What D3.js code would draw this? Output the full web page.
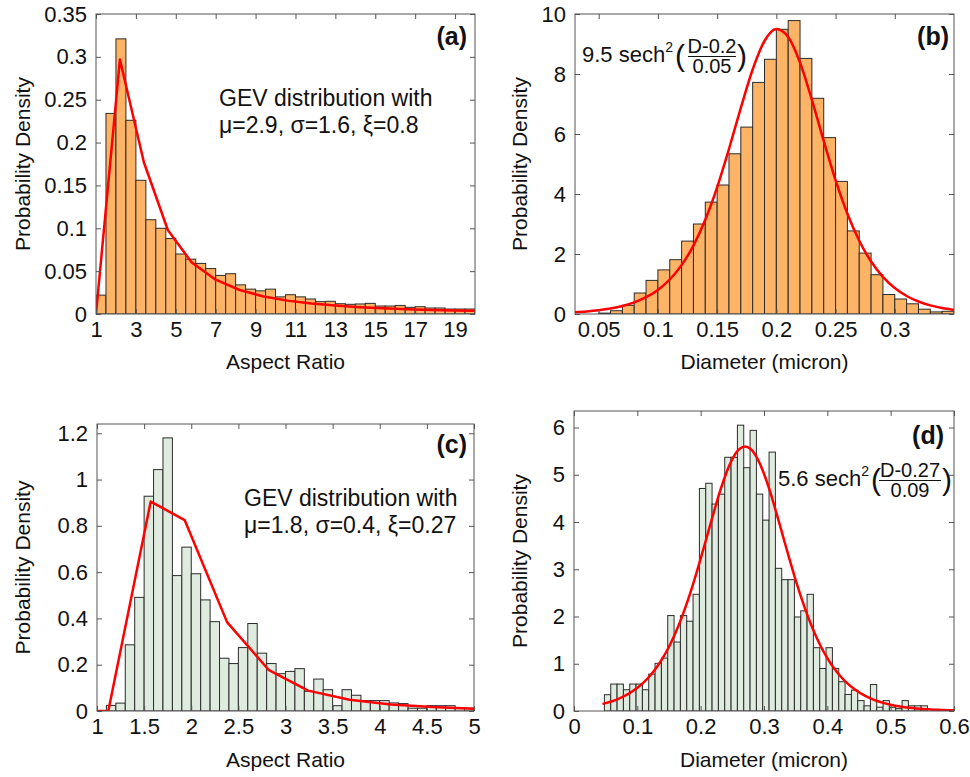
<!DOCTYPE html>
<html>
<head>
<meta charset="utf-8">
<script src="https://cdn.jsdelivr.net/npm/d3@7"></script>
<style>
  body { margin: 0; background: #fff; }
  text { font-family: "Liberation Sans", Arial, sans-serif; fill: #111; }
</style>
</head>
<body>
<div id="fig"></div>
<script>
// (a) aspect ratio histogram, bins of 0.5 starting at 1
const aBinStart = 1, aBinWidth = 0.5;
const aDensity = [0.022, 0.234, 0.321, 0.226, 0.156, 0.110, 0.100, 0.088, 0.070, 0.064,
    0.059, 0.053, 0.045, 0.047, 0.034, 0.029, 0.027, 0.029, 0.020, 0.0225,
    0.020, 0.0175, 0.0144, 0.0148, 0.012, 0.0113, 0.0117, 0.0124, 0.0093, 0.0093,
    0.010, 0.0078, 0.0085, 0.007, 0.007, 0.0058, 0.0058, 0.0058];
const aFitX = [1, 2.2, 3.4, 4.6, 5.8, 7, 8.2, 9.4, 10.6, 11.8, 13, 14.2, 15.4, 16.6, 17.8, 19, 20];
const aFitY = [0, 0.297, 0.177, 0.098, 0.060, 0.040, 0.028, 0.0205, 0.0156, 0.0122, 0.0098,
    0.008, 0.0067, 0.0056, 0.0048, 0.0041, 0.0037];
const aXTicks = [1, 3, 5, 7, 9, 11, 13, 15, 17, 19];
const aYTicks = [0, 0.05, 0.1, 0.15, 0.2, 0.25, 0.3, 0.35];

// (b) diameter histogram, bins of 0.01 starting at 0.05
const bBinStart = 0.05, bBinWidth = 0.01;
const bDensity = [0.03, 0.11, 0.29, 0.70, 1.12, 1.47, 1.81, 2.43, 3.0, 3.73,
    4.30, 5.34, 6.23, 7.72, 8.49, 9.49, 9.78, 8.52, 7.19, 5.88,
    4.42, 2.77, 2.03, 1.31, 0.65, 0.50, 0.34, 0.16, 0.07, 0.09];
const bFitX = [0.03, 0.04, 0.05, 0.06, 0.07, 0.08, 0.09, 0.10, 0.11, 0.12, 0.13, 0.14, 0.15, 0.16,
    0.17, 0.18, 0.19, 0.20, 0.21, 0.22, 0.23, 0.24, 0.25, 0.26, 0.27, 0.28, 0.29, 0.30,
    0.31, 0.32, 0.33, 0.34, 0.35];
const bFitY = [0.060, 0.087, 0.127, 0.184, 0.267, 0.387, 0.560, 0.804, 1.15, 1.63, 2.28, 3.14, 4.22, 5.50,
    6.87, 8.15, 9.10, 9.50, 9.23, 8.38, 7.14, 5.77, 4.46, 3.34, 2.44, 1.75, 1.24, 0.865,
    0.601, 0.417, 0.288, 0.198, 0.136];
const bXTicks = [0.05, 0.1, 0.15, 0.2, 0.25, 0.3];
const bYTicks = [0, 2, 4, 6, 8, 10];

// (c) aspect ratio histogram, bins of 0.1 starting at 1.1
const cBinStart = 1.1, cBinWidth = 0.1;
const cDensity = [0.024, 0.034, 0.286, 0.491, 0.928, 1.043, 1.180, 0.585, 0.708, 0.593,
    0.480, 0.386, 0.228, 0.205, 0.274, 0.378, 0.25, 0.205, 0.161, 0.171,
    0.183, 0.085, 0.138, 0.092, 0.023, 0.092, 0.068, 0.045, 0.045, 0.045,
    0.035, 0.032, 0.012, 0.012, 0.023, 0.023, 0.023, 0.012, 0.012];
const cFitX = [1.0, 1.12, 1.57, 1.93, 2.38, 2.82, 3.24, 3.68, 4.12, 4.56, 5.0];
const cFitY = [0, 0, 0.905, 0.825, 0.384, 0.178, 0.088, 0.049, 0.028, 0.017, 0.010];
const cXTicks = [1, 1.5, 2, 2.5, 3, 3.5, 4, 4.5, 5];
const cYTicks = [0, 0.2, 0.4, 0.6, 0.8, 1, 1.2];

// (d) diameter histogram, bins of 0.01 starting at 0.048
const dBinStart = 0.048, dBinWidth = 0.01;
const dDensity = [0.345, 0.57, 0.57, 0.45, 0.57, 0.57, 0.45, 0.78, 1.01, 1.12,
    2.02, 1.46, 2.02, 1.90, 2.47, 4.71, 4.82, 4.38, 4.59, 5.37,
    5.37, 6.05, 5.15, 5.94, 4.59, 4.04, 5.48, 3.02, 2.78, 2.78,
    1.99, 2.12, 2.47, 1.34, 0.90, 1.34, 0.90, 0.62, 0.35, 0.44,
    0.22, 0.11, 0.56, 0.08, 0.22, 0.08, 0.05, 0.22, 0.11, 0.11, 0.11];
const dFitX = [0.045, 0.05, 0.06, 0.07, 0.08, 0.09, 0.10, 0.11, 0.12, 0.13, 0.14, 0.15, 0.16, 0.17,
    0.18, 0.19, 0.20, 0.21, 0.22, 0.23, 0.24, 0.25, 0.26, 0.27, 0.28, 0.29, 0.30, 0.31,
    0.32, 0.33, 0.34, 0.35, 0.36, 0.37, 0.38, 0.39, 0.40, 0.41, 0.42, 0.43, 0.44, 0.45,
    0.46, 0.47, 0.48, 0.49, 0.50, 0.51, 0.52, 0.53, 0.54, 0.55, 0.56, 0.57, 0.58, 0.59, 0.60];
const dFitY = [0.149, 0.166, 0.207, 0.257, 0.319, 0.396, 0.490, 0.605, 0.745, 0.914, 1.119, 1.361, 1.646, 1.977,
    2.352, 2.770, 3.224, 3.697, 4.172, 4.626, 5.022, 5.332, 5.532, 5.60, 5.532, 5.332, 5.022, 4.626,
    4.172, 3.697, 3.224, 2.770, 2.352, 1.977, 1.646, 1.361, 1.119, 0.914, 0.745, 0.605, 0.490, 0.396,
    0.319, 0.257, 0.207, 0.166, 0.134, 0.107, 0.086, 0.069, 0.055, 0.044, 0.036, 0.028, 0.023, 0.018, 0.0145];
const dXTicks = [0, 0.1, 0.2, 0.3, 0.4, 0.5, 0.6];
const dYTicks = [0, 1, 2, 3, 4, 5, 6];

const orange = '#fdb466', pale = '#e0ebe0';

const svg = d3.select('#fig').append('svg')
    .attr('width', 970).attr('height', 777);

const panels = [
    { id: 'a', box: [96, 475, 14, 314], xDomain: [1, 20], yDomain: [0, 0.35],
      xTicks: aXTicks, yTicks: aYTicks, binStart: aBinStart, binWidth: aBinWidth, values: aDensity,
      fill: orange, fitX: aFitX, fitY: aFitY, curve: d3.curveLinear,
      xTitle: 'Aspect Ratio', xTitleY: 369, yTitleX: 30, tag: '(a)', tagX: 467, tagY: 45 },
    { id: 'b', box: [575, 954, 14, 314], xDomain: [0.03, 0.35], yDomain: [0, 10],
      xTicks: bXTicks, yTicks: bYTicks, binStart: bBinStart, binWidth: bBinWidth, values: bDensity,
      fill: orange, fitX: bFitX, fitY: bFitY, curve: d3.curveMonotoneX,
      xTitle: 'Diameter (micron)', xTitleY: 369, yTitleX: 527, tag: '(b)', tagX: 949, tagY: 45 },
    { id: 'c', box: [97, 474, 424, 711], xDomain: [1, 5], yDomain: [0, 1.24],
      xTicks: cXTicks, yTicks: cYTicks, binStart: cBinStart, binWidth: cBinWidth, values: cDensity,
      fill: pale, fitX: cFitX, fitY: cFitY, curve: d3.curveLinear,
      xTitle: 'Aspect Ratio', xTitleY: 767, yTitleX: 30, tag: '(c)', tagX: 467, tagY: 453 },
    { id: 'd', box: [574, 954, 411, 711], xDomain: [0, 0.6], yDomain: [0, 6.35],
      xTicks: dXTicks, yTicks: dYTicks, binStart: dBinStart, binWidth: dBinWidth, values: dDensity,
      fill: pale, fitX: dFitX, fitY: dFitY, curve: d3.curveMonotoneX,
      xTitle: 'Diameter (micron)', xTitleY: 767, yTitleX: 527, tag: '(d)', tagX: 944, tagY: 444 }
];

const fmt = d3.format('~g');

panels.forEach(p => {
    const [left, right, top, bottom] = p.box;
    const x = d3.scaleLinear(p.xDomain, [left, right]);
    const y = d3.scaleLinear(p.yDomain, [bottom, top]);
    const g = svg.append('g').attr('class', 'panel-' + p.id);

    svg.append('clipPath').attr('id', 'clip-' + p.id)
        .append('rect').attr('x', left).attr('y', top)
        .attr('width', right - left).attr('height', bottom - top);

    // histogram bars
    g.append('g').attr('clip-path', `url(#clip-${p.id})`)
        .selectAll('rect').data(p.values).join('rect')
        .attr('x', (d, i) => x(p.binStart + i * p.binWidth))
        .attr('width', (d, i) => x(p.binStart + (i + 1) * p.binWidth) - x(p.binStart + i * p.binWidth))
        .attr('y', d => y(d))
        .attr('height', d => y(0) - y(d))
        .attr('fill', p.fill)
        .attr('stroke', '#2b2b2b')
        .attr('stroke-width', 1);

    // fitted curve
    const line = d3.line().x(d => x(d[0])).y(d => y(d[1])).curve(p.curve);
    g.append('path').attr('clip-path', `url(#clip-${p.id})`)
        .datum(p.fitX.map((v, i) => [v, p.fitY[i]]))
        .attr('d', line)
        .attr('fill', 'none').attr('stroke', '#ff0000').attr('stroke-width', 2.5)
        .attr('stroke-linejoin', 'round');

    // axes, ticks pointing inwards on all four sides
    const styleAxis = sel => {
        sel.select('.domain').remove();
        sel.selectAll('.tick line').attr('stroke', '#555');
        sel.selectAll('.tick text').attr('font-size', 22)
            .attr('font-family', '"Liberation Sans", Arial, sans-serif').attr('fill', '#111');
    };
    g.append('g').attr('transform', `translate(0,${bottom})`)
        .call(d3.axisBottom(x).tickValues(p.xTicks).tickFormat(fmt).tickSizeInner(-5).tickSizeOuter(0).tickPadding(7))
        .call(styleAxis);
    g.append('g').attr('transform', `translate(0,${top})`)
        .call(d3.axisTop(x).tickValues(p.xTicks).tickFormat('').tickSizeInner(-5).tickSizeOuter(0))
        .call(styleAxis);
    g.append('g').attr('transform', `translate(${left},0)`)
        .call(d3.axisLeft(y).tickValues(p.yTicks).tickFormat(fmt).tickSizeInner(-5).tickSizeOuter(0).tickPadding(9))
        .call(styleAxis);
    g.append('g').attr('transform', `translate(${right},0)`)
        .call(d3.axisRight(y).tickValues(p.yTicks).tickFormat('').tickSizeInner(-5).tickSizeOuter(0))
        .call(styleAxis);

    g.append('rect').attr('x', left).attr('y', top)
        .attr('width', right - left).attr('height', bottom - top)
        .attr('fill', 'none').attr('stroke', '#555').attr('stroke-width', 1);

    // titles
    g.append('text').attr('x', (left + right) / 2).attr('y', p.xTitleY)
        .attr('text-anchor', 'middle').attr('font-size', 21).text(p.xTitle);
    g.append('text')
        .attr('transform', `translate(${p.yTitleX},${(top + bottom) / 2}) rotate(-90)`)
        .attr('text-anchor', 'middle').attr('font-size', 21).text('Probability Density');
    g.append('text').attr('x', p.tagX).attr('y', p.tagY)
        .attr('text-anchor', 'end').attr('font-size', 25).attr('font-weight', 'bold').text(p.tag);
});

// GEV annotations
function gevNote(x0, y0, params) {
    svg.append('text').attr('x', x0).attr('y', y0).attr('font-size', 23).text('GEV distribution with');
    svg.append('text').attr('x', x0).attr('y', y0 + 27).attr('font-size', 23).text(params);
}
gevNote(219, 106, 'μ=2.9, σ=1.6, ξ=0.8');
gevNote(244, 506, 'μ=1.8, σ=0.4, ξ=0.27');

// sech^2 formulas: prefix, superscript, parens and a stacked fraction
function sechNote(x0, base, amp, num, den, fracCx, fracHalf) {
    const t = svg.append('text').attr('x', x0).attr('y', base).attr('font-size', 22);
    t.append('tspan').text(amp + ' sech');
    t.append('tspan').attr('font-size', 14).attr('dy', -10).text('2');
    const w = t.node().getComputedTextLength();
    svg.append('text').attr('x', x0 + w + 2).attr('y', base + 4).attr('font-size', 30).text('(');
    const f = svg.append('text').attr('text-anchor', 'middle').attr('font-size', 20);
    f.append('tspan').attr('x', fracCx).attr('y', base - 9).text(num);
    f.append('tspan').attr('x', fracCx).attr('y', base + 11).text(den);
    svg.append('line').attr('x1', fracCx - fracHalf).attr('x2', fracCx + fracHalf)
        .attr('y1', base - 5.5).attr('y2', base - 5.5).attr('stroke', '#111').attr('stroke-width', 1.2);
    svg.append('text').attr('x', fracCx + fracHalf + 1).attr('y', base + 4).attr('font-size', 30).text(')');
}
sechNote(582, 62, '9.5', 'D-0.2', '0.05', 712, 24);
sechNote(778, 486, '5.6', 'D-0.27', '0.09', 910, 31);
</script>
</body>
</html>
